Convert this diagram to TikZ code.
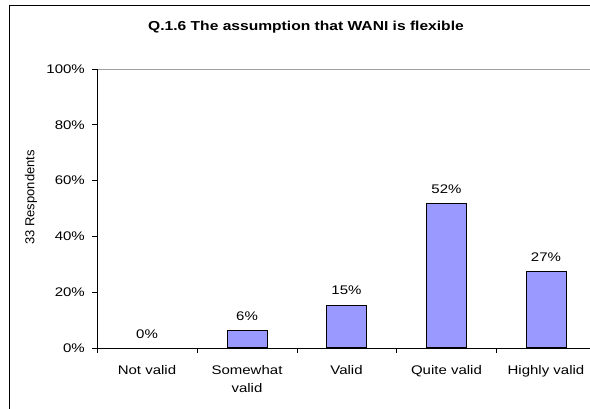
\documentclass[tikz,border=0pt]{standalone}
\usepackage{fontspec}
\setmainfont{Liberation Sans}[FakeStretch=1.2]
\newfontfamily\uprightfont{Liberation Sans}
\usepackage{xcolor}
\usepackage{tikz}
\usetikzlibrary{positioning}
\definecolor{barblue}{HTML}{9999FF}
\definecolor{gridgray}{HTML}{A0A0A0}

\begin{document}
\begin{tikzpicture}[x=1pt, y=-1pt,
    bar/.style={draw=black, fill=barblue, line width=0.9pt, minimum width=40pt, inner sep=0pt, anchor=south},
    vallabel/.style={inner sep=0pt, font=\fontsize{12.5}{14}\selectfont},
    ticklabel/.style={anchor=east, inner sep=0pt, font=\fontsize{12.5}{14}\selectfont},
    catlabel/.style={anchor=north, inner sep=0pt, align=center, font=\fontsize{12.5}{18}\selectfont}
]
\useasboundingbox (0,0) rectangle (590,408);
\clip (0,0) rectangle (590,408);
\draw[line width=1pt] (9,5.5) rectangle (620,430);

% title and axis title
\node[font=\bfseries\fontsize{13}{15}\selectfont](title) at (306,27){Q.1.6 The assumption that WANI is flexible};
\node[rotate=90, font=\uprightfont\fontsize{13}{15}\selectfont](ylabel) at (31,197.5){33 Respondents};

% axes
\coordinate (origin) at (97,348);
\coordinate (ytop) at (97,69);
\coordinate (xend) at (600,348);
\draw[gridgray, line width=0.9pt] (ytop) -- (600,69);
\draw[line width=0.9pt] (ytop) -- (origin) -- (xend);

% y ticks
\draw[line width=0.9pt] (92,348) -- (97,348);
\draw[line width=0.9pt] (92,292.2) -- (97,292.2);
\draw[line width=0.9pt] (92,236.4) -- (97,236.4);
\draw[line width=0.9pt] (92,180.6) -- (97,180.6);
\draw[line width=0.9pt] (92,124.8) -- (97,124.8);
\draw[line width=0.9pt] (92,69) -- (97,69);
\node[ticklabel](y0) at (85,348){0\%};
\node[ticklabel](y20) at (85,292.2){20\%};
\node[ticklabel](y40) at (85,236.4){40\%};
\node[ticklabel](y60) at (85,180.6){60\%};
\node[ticklabel](y80) at (85,124.8){80\%};
\node[ticklabel](y100) at (85,69){100\%};

% x ticks
\draw[line width=0.9pt] (97,348) -- (97,353);
\draw[line width=0.9pt] (197,348) -- (197,353);
\draw[line width=0.9pt] (297,348) -- (297,353);
\draw[line width=0.9pt] (396,348) -- (396,353);
\draw[line width=0.9pt] (496,348) -- (496,353);
\draw[line width=0.9pt] (596,348) -- (596,353);

% bars
\coordinate (notvalid) at (147,348);
\node[bar, minimum height=16.9pt](somewhat) at (247,348){};
\node[bar, minimum height=42.3pt](valid) at (346.5,348){};
\node[bar, minimum height=143.7pt](quite) at (446.5,348){};
\node[bar, minimum height=76.1pt](highly) at (546,348){};

% value labels
\node[vallabel](p0)[above = 9.5pt of notvalid]{0\%};
\node[vallabel](p6)[above = 9.5pt of somewhat]{6\%};
\node[vallabel](p15)[above = 9.5pt of valid]{15\%};
\node[vallabel](p52)[above = 9.5pt of quite]{52\%};
\node[vallabel](p27)[above = 9.5pt of highly]{27\%};

% category labels
\node[catlabel](c1)[below = 17.5pt of notvalid]{Not valid};
\node[catlabel](c2)[below = 17.5pt of somewhat]{Somewhat\\valid};
\node[catlabel](c3)[below = 17.5pt of valid]{Valid};
\node[catlabel](c4)[below = 17.5pt of quite]{Quite valid};
\node[catlabel](c5)[below = 17.5pt of highly]{Highly valid};
\end{tikzpicture}
\end{document}
